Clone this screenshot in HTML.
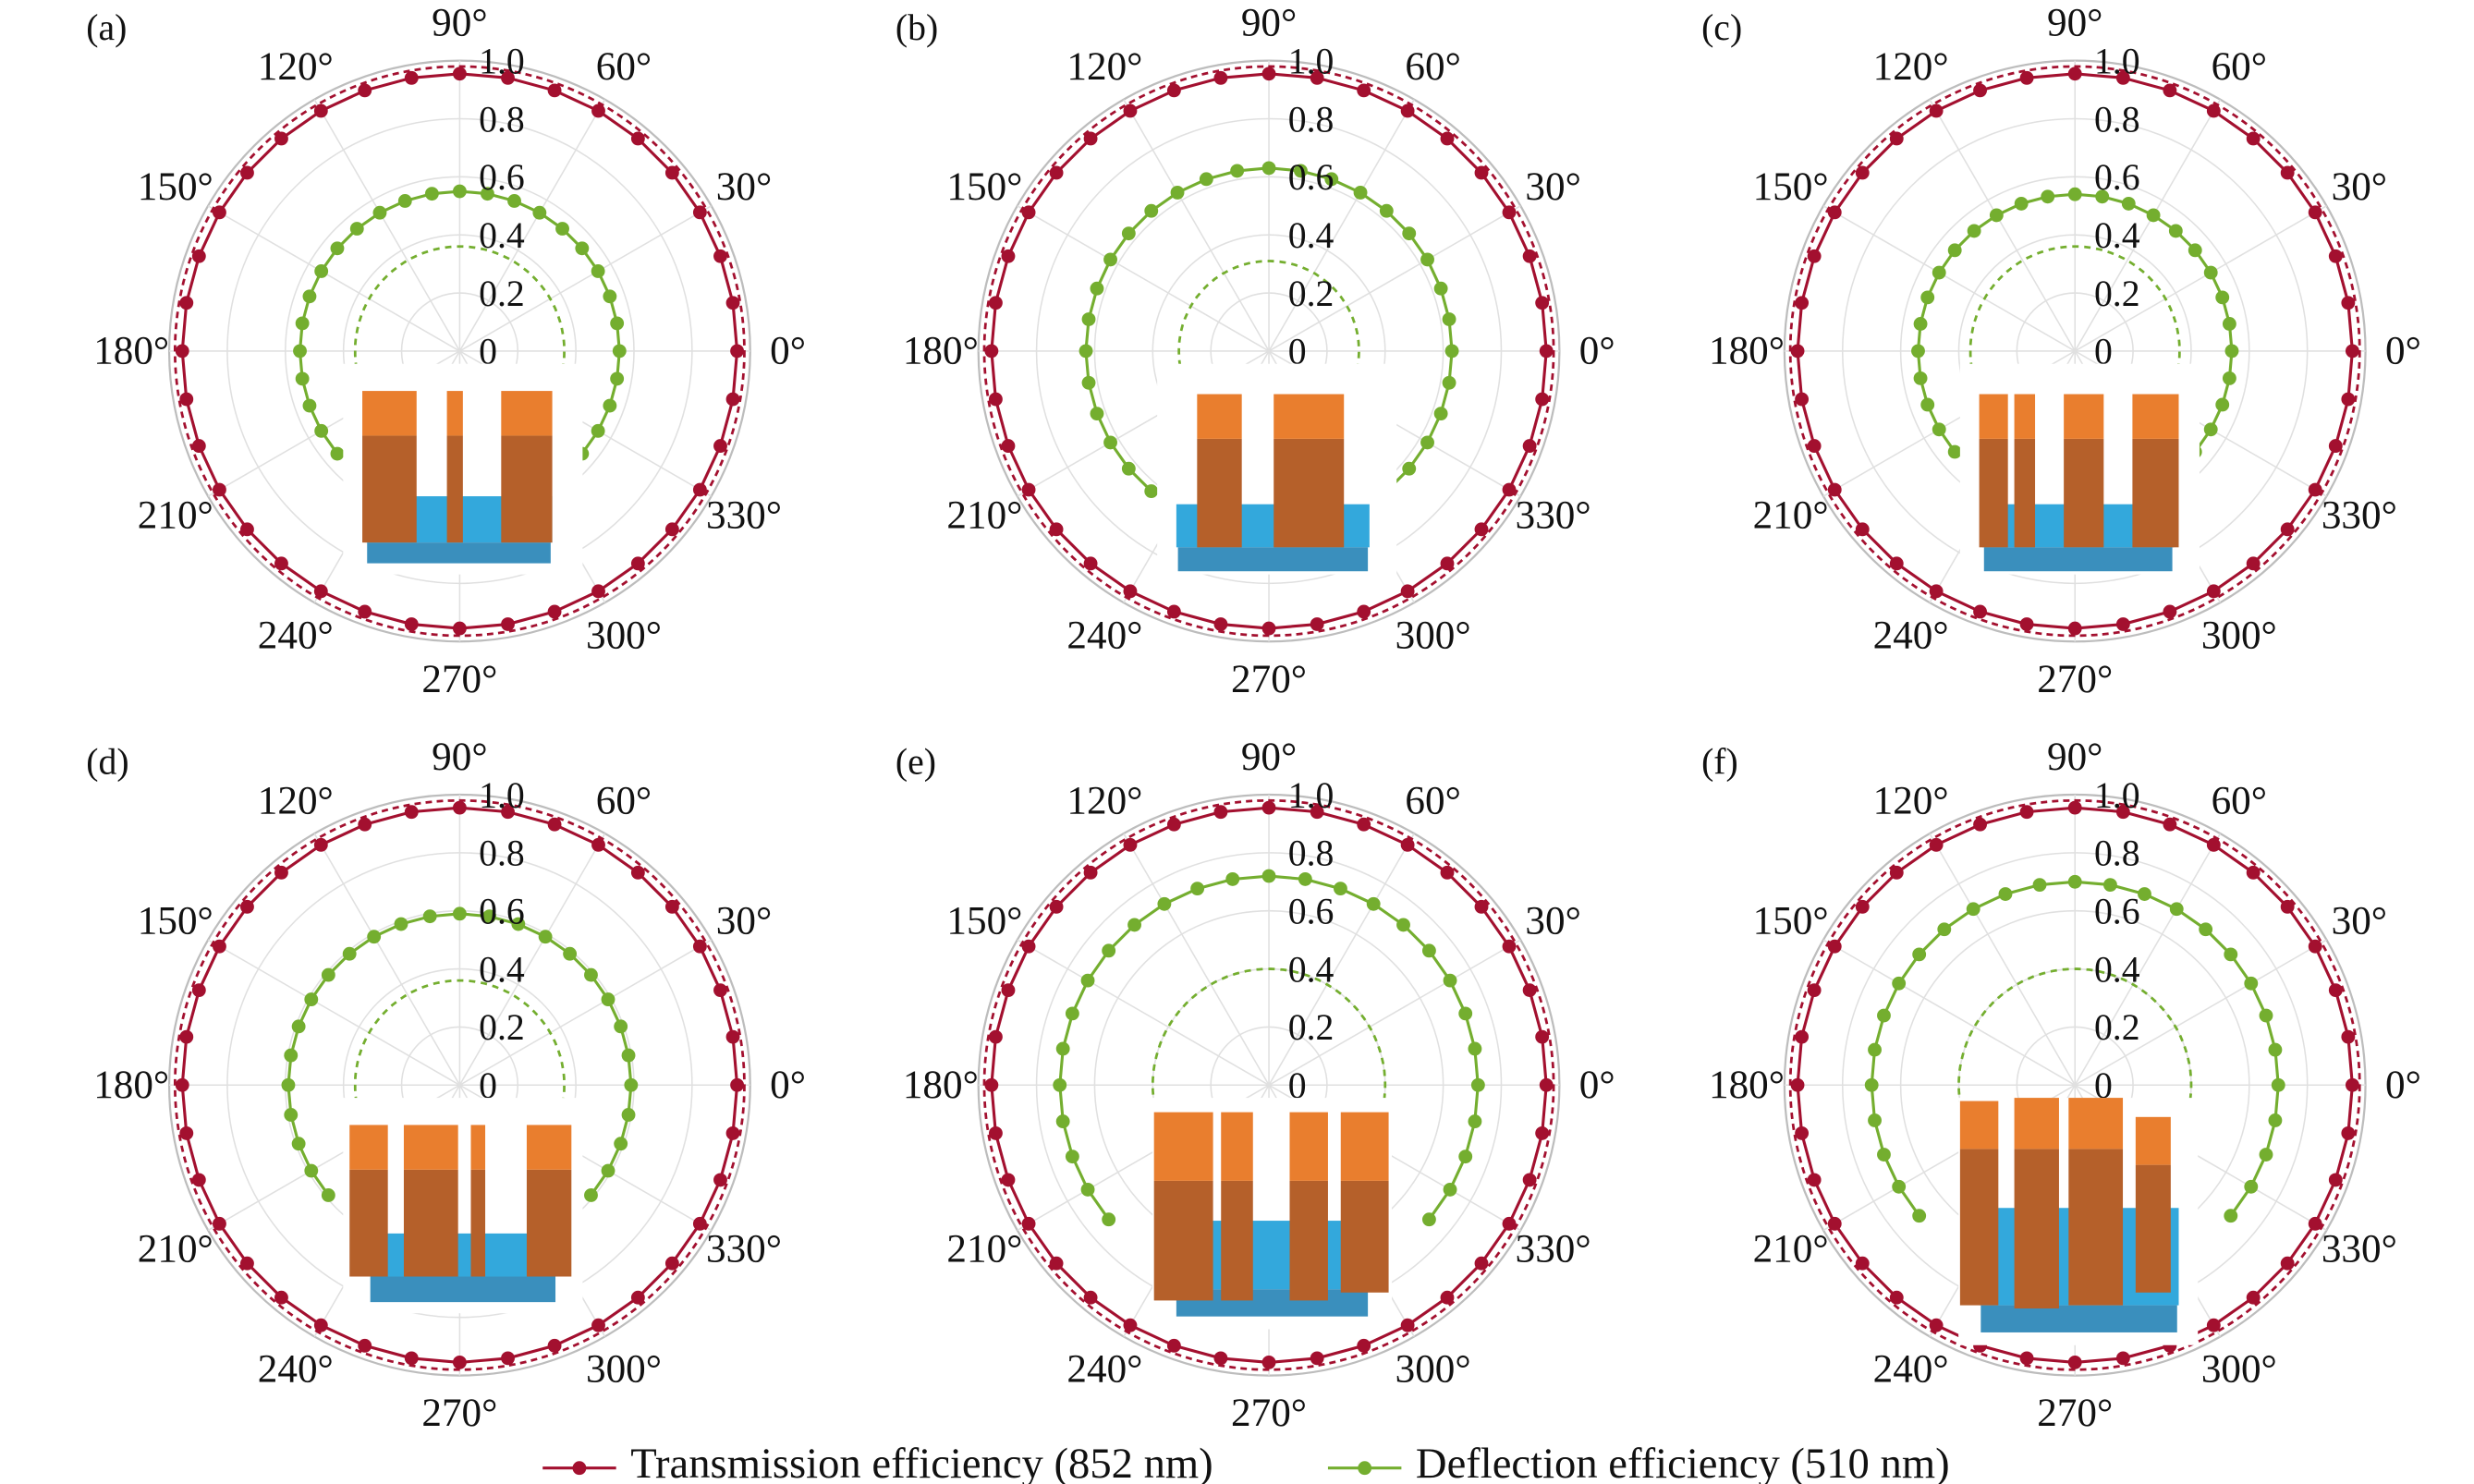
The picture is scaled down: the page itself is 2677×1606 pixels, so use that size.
<!DOCTYPE html>
<html><head><meta charset="utf-8"><style>
html,body{margin:0;padding:0;background:#fff;}
svg{display:block;}
text{font-family:"Liberation Serif",serif;fill:#111;}
</style></head><body>
<svg id="fig" width="2677" height="1606" viewBox="0 0 1550 930" preserveAspectRatio="none" xmlns="http://www.w3.org/2000/svg"></svg>
<script>
// ---- data ----
const panelLabels = ["(a)","(b)","(c)","(d)","(e)","(f)"];
const radialTicks = [0,0.2,0.4,0.6,0.8,1.0];
const radialTickLabels = ["0","0.2","0.4","0.6","0.8","1.0"];
const angleTicks = [0,30,60,90,120,150,180,210,240,270,300,330];
const transValues = [0.955,0.955,0.955,0.955,0.955,0.955];
const transDashed = [0.98,0.98,0.98,0.98,0.98,0.98];
const deflValues = [0.55,0.63,0.54,0.59,0.72,0.70];
const deflDashed = [0.36,0.31,0.36,0.36,0.40,0.40];
const deflStart = [-40,-50,-40,-40,-40,-40];
const deflEnd = [220,230,220,220,220,220];
const dashStart = [-30,-35,-30,-30,-25,-25];
const dashEnd = [210,215,210,210,205,205];

const svg = document.getElementById('fig');
const NS = "http://www.w3.org/2000/svg";
const centers = [[288,220],[795,220],[1300,220],[288,680],[795,680],[1300,680]];
const R = 182;
const RED = "#a3102f", GREEN = "#74ae2f";
function mk(tag, attrs, parent){
  const e = document.createElementNS(NS, tag);
  for (const k in attrs) e.setAttribute(k, attrs[k]);
  (parent||svg).appendChild(e); return e;
}
function pt(c, r, deg){ const a = deg*Math.PI/180; return [c[0]+r*R*Math.cos(a), c[1]-r*R*Math.sin(a)]; }

const insets = [
 {box:[-73,8,150,132], base:[-59,58,91,120,133], p:[[-61,-27,25,53,120],[-8,2,25,53,120],[26,58,25,53,120]]},
 {box:[-70,8,150,132], base:[-58,63,96,123,138], p:[[-45,-17,27,55,123],[3,47,27,55,123]]},
 {box:[-72,8,150,132], base:[-58,62,96,123,138], p:[[-60,-42,27,55,123],[-38,-25,27,55,123],[-7,18,27,55,123],[36,65,27,55,123]]},
 {box:[-73,8,150,135], base:[-57,61,93,120,136], p:[[-69,-45,25,53,120],[-35,-1,25,53,120],[7,16,25,53,120],[42,70,25,53,120]]},
 {box:[-73,8,150,145], base:[-59,63,85,128,145], p:[[-72,-35,17,60,135],[-30,-10,17,60,135],[13,37,17,60,135],[45,75,17,60,130]]},
 {box:[-73,8,150,155], base:[-60,65,77,138,155], p:[[-72,-48,10,40,138],[-38,-10,8,40,140],[-4,30,8,40,138],[38,60,20,50,130]]}
];

centers.forEach((c, i) => {
  const g = mk('g', {});
  
  
  radialTicks.slice(1).forEach((t, j) => {
    const ci = mk('circle', {cx:c[0], cy:c[1], r:t*R, fill:'none', stroke: t===1?'#bdbdbd':'#e0e0e0', 'stroke-width': t===1?1.3:0.9}, g);
    
    
  });
  angleTicks.forEach(a => {
    const p = pt(c, 1, a);
    const l = mk('line', {x1:c[0], y1:c[1], x2:p[0], y2:p[1], stroke:'#e0e0e0', 'stroke-width':0.9}, g);
    
    
  });
  const td = mk('circle', {cx:c[0], cy:c[1], r:transDashed[i]*R, fill:'none', stroke:RED, 'stroke-width':1.6, 'stroke-dasharray':'4,3'}, g);
  
  
  let d = "";
  const tpts = [];
  for (let a = 0; a <= 360; a += 10) { const p = pt(c, transValues[i], a); tpts.push(p); d += (a? 'L':'M') + p[0].toFixed(1) + ',' + p[1].toFixed(1); }
  const tl = mk('path', {d:d, fill:'none', stroke:RED, 'stroke-width':1.8}, g);
  
  
  tpts.slice(0, 36).forEach(p => {
    const m = mk('circle', {cx:p[0], cy:p[1], r:4.3, fill:RED}, g);
    
    
  });
  let dd = "";
  for (let a = dashStart[i]; a <= dashEnd[i]; a += 2) { const p = pt(c, deflDashed[i], a); dd += (a===dashStart[i]?'M':'L') + p[0].toFixed(1) + ',' + p[1].toFixed(1); }
  const gd = mk('path', {d:dd, fill:'none', stroke:GREEN, 'stroke-width':1.6, 'stroke-dasharray':'4,3.5'}, g);
  
  
  let gdp = ""; const gpts = [];
  for (let a = deflStart[i]; a <= deflEnd[i]; a += 10) { const p = pt(c, deflValues[i], a); gpts.push(p); gdp += (a===deflStart[i]?'M':'L') + p[0].toFixed(1) + ',' + p[1].toFixed(1); }
  const gl = mk('path', {d:gdp, fill:'none', stroke:GREEN, 'stroke-width':1.8}, g);
  
  
  gpts.forEach(p => {
    const m = mk('circle', {cx:p[0], cy:p[1], r:4.3, fill:GREEN}, g);
    
    
  });
  radialTicks.forEach((t, j) => {
    const tx = mk('text', {x:c[0]+12, y:c[1]-t*R+8, 'font-size':23}, g);
    tx.textContent = radialTickLabels[j];
    
    
  });
  angleTicks.forEach(a => {
    const p = pt(c, 1.13, a);
    const tx = mk('text', {x:p[0], y:p[1]+8, 'font-size':25, 'text-anchor':'middle'}, g);
    tx.textContent = a + '\u00b0';
    
    
  });
  const pl = mk('text', {x:c[0]-234, y:c[1]-195, 'font-size':23}, g);
  pl.textContent = panelLabels[i];
  
  
  const ins = insets[i];
  const ig = mk('g', {}, g);
  
  
  const b = ins.box;
  mk('rect', {x:c[0]+b[0], y:c[1]+b[1], width:b[2], height:b[3], fill:'#fff'}, ig);
  const bs = ins.base;
  mk('rect', {x:c[0]+bs[0], y:c[1]+bs[2], width:bs[1]-bs[0], height:bs[3]-bs[2], fill:'#33a8dc'}, ig);
  mk('rect', {x:c[0]+bs[0]+1, y:c[1]+bs[3], width:bs[1]-bs[0]-2, height:bs[4]-bs[3], fill:'#3a8fbd'}, ig);
  ins.p.forEach(q => {
    mk('rect', {x:c[0]+q[0], y:c[1]+q[3], width:q[1]-q[0], height:q[4]-q[3], fill:'#b5602a'}, ig);
    mk('rect', {x:c[0]+q[0], y:c[1]+q[2], width:q[1]-q[0], height:q[3]-q[2], fill:'#e97e2e'}, ig);
  });
});

const lg = mk('g', {});


const items = [[340, RED, 'Transmission efficiency (852 nm)'], [832, GREEN, 'Deflection efficiency (510 nm)']];
items.forEach(it => {
  const e = mk('g', {}, lg);
  
  
  mk('line', {x1:it[0], y1:920, x2:it[0]+46, y2:920, stroke:it[1], 'stroke-width':1.8}, e);
  mk('circle', {cx:it[0]+23, cy:920, r:4.3, fill:it[1]}, e);
  const t = mk('text', {x:it[0]+55, y:926, 'font-size':27}, e);
  t.textContent = it[2];
});
</script>
</body></html>
